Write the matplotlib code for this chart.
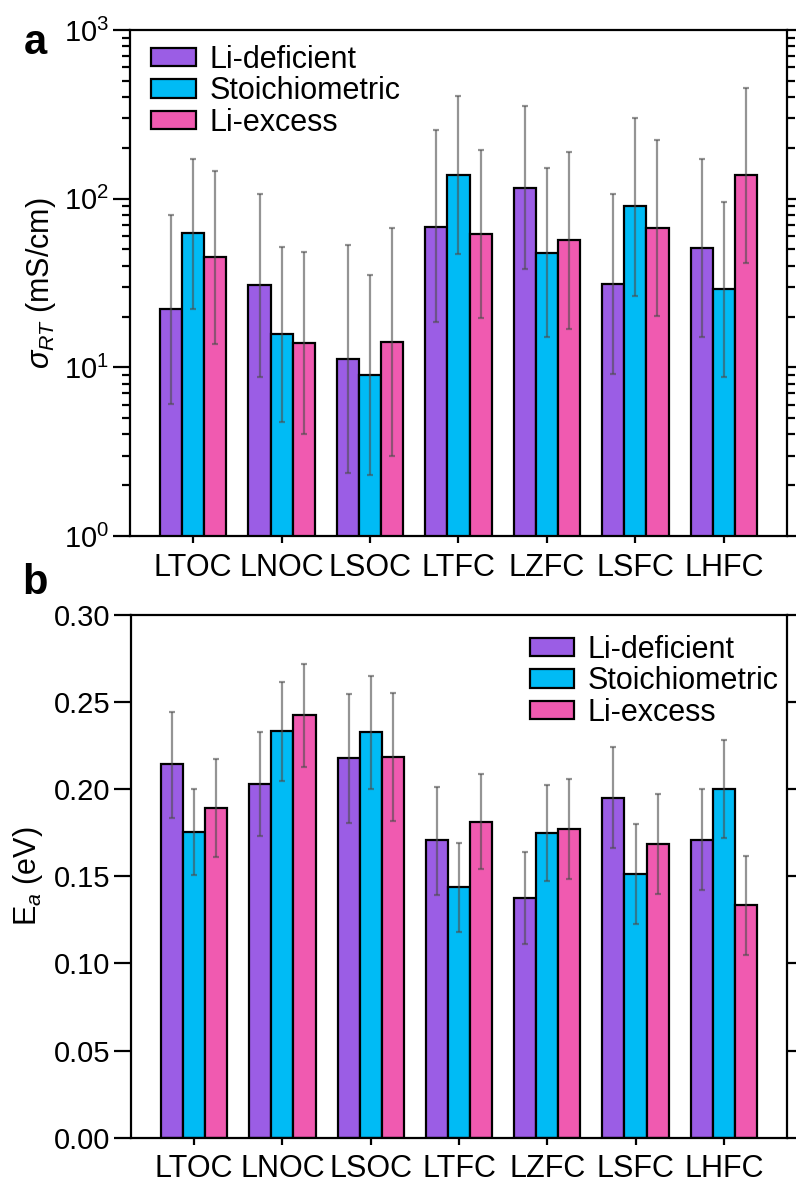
import numpy as np
import matplotlib
matplotlib.use("Agg")
import matplotlib.pyplot as plt
from matplotlib.ticker import MultipleLocator, FormatStrFormatter, LogLocator, LogFormatterSciNotation

plt.rcParams['font.family'] = ['Liberation Sans', 'DejaVu Sans']
plt.rcParams['mathtext.fontset'] = 'custom'
plt.rcParams['mathtext.rm'] = 'Liberation Sans'
plt.rcParams['mathtext.it'] = 'Liberation Sans:italic'
plt.rcParams['mathtext.bf'] = 'Liberation Sans:bold'

categories = ["LTOC", "LNOC", "LSOC", "LTFC", "LZFC", "LSFC", "LHFC"]
series = ["Li-deficient", "Stoichiometric", "Li-excess"]
colors = ["#9B5DE5", "#00BBF5", "#F05AB0"]

# Panel a: room-temperature conductivity (mS/cm)
sigma_def = [22.1, 30.8, 11.2, 68.2, 116, 31.2, 51.2]
sigma_def_lo = [6.1, 8.8, 2.35, 18.5, 38.1, 9.1, 15.2]
sigma_def_hi = [80, 106, 53, 255, 356, 106, 172]
sigma_sto = [62.3, 15.7, 9.0, 138.6, 47.8, 90, 29.0]
sigma_sto_lo = [22.2, 4.76, 2.30, 47, 15.1, 26.6, 8.8]
sigma_sto_hi = [173, 51.9, 35.2, 405, 152, 303, 96]
sigma_exc = [45.3, 14.0, 14.1, 61.4, 57.1, 67, 138.6]
sigma_exc_lo = [13.8, 4.04, 2.99, 19.5, 16.9, 20.1, 41.5]
sigma_exc_hi = [146.5, 48.5, 66.7, 194, 190, 223, 455]

# Panel b: activation energy (eV)
ea_def = [0.2144, 0.2031, 0.2178, 0.1707, 0.1374, 0.1950, 0.1711]
ea_def_lo = [0.1837, 0.1734, 0.1807, 0.1395, 0.1112, 0.1661, 0.1424]
ea_def_hi = [0.2446, 0.2327, 0.2547, 0.2015, 0.1642, 0.2243, 0.2000]
ea_sto = [0.1753, 0.2333, 0.2327, 0.1437, 0.1747, 0.1514, 0.2000]
ea_sto_lo = [0.1510, 0.2049, 0.2002, 0.1181, 0.1473, 0.1225, 0.1719]
ea_sto_hi = [0.2000, 0.2618, 0.2652, 0.1693, 0.2023, 0.1803, 0.2283]
ea_exc = [0.1893, 0.2425, 0.2187, 0.1814, 0.1772, 0.1686, 0.1336]
ea_exc_lo = [0.1613, 0.2128, 0.1820, 0.1542, 0.1485, 0.1399, 0.1051]
ea_exc_hi = [0.2174, 0.2718, 0.2554, 0.2086, 0.2057, 0.1973, 0.1619]

fig = plt.figure(figsize=(7.96, 11.83), dpi=100)
axa = fig.add_axes([0.1633, 0.5469, 0.8254, 0.4277])
axb = fig.add_axes([0.1646, 0.0383, 0.8240, 0.4418])

x = np.arange(len(categories))
w = 0.25
offsets = [-w, 0, w]
err_kw = dict(ecolor=(0.3, 0.3, 0.3, 0.6), elinewidth=1.6, capsize=2.3, capthick=1.6)


def draw(ax, vals, los, his):
    for i, (v, lo, hi) in enumerate(zip(vals, los, his)):
        v = np.array(v); lo = np.array(lo); hi = np.array(hi)
        ax.bar(x + offsets[i], v, width=w, color=colors[i], edgecolor='black',
               linewidth=1.6, label=series[i], yerr=[v - lo, hi - v],
               error_kw=err_kw, zorder=2)


axa.set_yscale('log')
draw(axa, [sigma_def, sigma_sto, sigma_exc],
     [sigma_def_lo, sigma_sto_lo, sigma_exc_lo],
     [sigma_def_hi, sigma_sto_hi, sigma_exc_hi])
axa.set_ylim(1, 1000)
axa.yaxis.set_major_locator(LogLocator(base=10, numticks=10))
axa.yaxis.set_minor_locator(LogLocator(base=10, subs=np.arange(2, 10), numticks=20))
axa.yaxis.set_major_formatter(LogFormatterSciNotation())
axa.set_ylabel(r"$\sigma_{RT}$ (mS/cm)", fontsize=22, labelpad=4)

draw(axb, [ea_def, ea_sto, ea_exc],
     [ea_def_lo, ea_sto_lo, ea_exc_lo],
     [ea_def_hi, ea_sto_hi, ea_exc_hi])
axb.set_ylim(0, 0.30)
axb.yaxis.set_major_locator(MultipleLocator(0.05))
axb.yaxis.set_major_formatter(FormatStrFormatter('%.2f'))
axb.set_ylabel(r"E$_a$ (eV)", fontsize=22, labelpad=6)

for ax in (axa, axb):
    ax.set_xlim(-0.715, len(categories) - 1 + 0.715)
    ax.set_xticks(x)
    ax.set_xticklabels(categories)
    for s in ax.spines.values():
        s.set_linewidth(1.6)
    ax.tick_params(axis='y', which='major', direction='out', length=12, width=1.6,
                   labelsize=21, left=True, right=True, pad=3)
    ax.tick_params(axis='y', which='minor', direction='out', length=6, width=1.6,
                   left=True, right=True)
    ax.tick_params(axis='x', which='major', direction='out', length=5, width=1.6,
                   labelsize=22, top=False, pad=7)
    ax.tick_params(axis='x', which='minor', bottom=False, top=False)

axa.legend(loc='upper left', fontsize=22, frameon=False, handlelength=1.45,
           handleheight=0.55, handletextpad=0.45, labelspacing=0.05,
           borderaxespad=0.3, bbox_to_anchor=(0.0, 1.013))
axb.legend(loc='upper right', fontsize=22, frameon=False, handlelength=1.45,
           handleheight=0.55, handletextpad=0.45, labelspacing=0.05,
           borderaxespad=0.3, bbox_to_anchor=(1.020, 1.003))

fig.text(0.030, 0.9635, "a", fontsize=30, fontweight='bold', ha='left', va='center')
fig.text(0.028, 0.5075, "b", fontsize=30, fontweight='bold', ha='left', va='center')

fig.savefig("out.png", dpi=100)
